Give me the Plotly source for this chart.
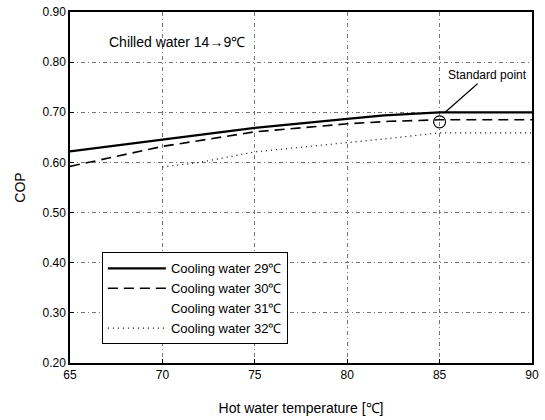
import plotly.graph_objects as go

temp_29 = [65, 70, 75, 80, 82, 85, 90]
cop_29 = [0.622, 0.646, 0.669, 0.687, 0.694, 0.700, 0.700]

temp_30 = [65, 70, 75, 80, 82.3, 85, 90]
cop_30 = [0.592, 0.632, 0.661, 0.677, 0.682, 0.685, 0.685]

temp_31 = [None]
cop_31 = [None]

temp_32 = [70, 72, 75, 80, 82.3, 85, 90]
cop_32 = [0.591, 0.600, 0.621, 0.639, 0.648, 0.659, 0.659]

std_temp = [85]
std_cop = [0.681]

x_ticks = [65, 70, 75, 80, 85, 90]
y_ticks = [0.20, 0.30, 0.40, 0.50, 0.60, 0.70, 0.80, 0.90]

FONT = "Liberation Sans, Arial, sans-serif"

fig = go.Figure()
fig.add_trace(go.Scatter(x=temp_29, y=cop_29, mode="lines", name="Cooling water 29℃",
                         line=dict(color="black", width=2.2)))
fig.add_trace(go.Scatter(x=temp_30, y=cop_30, mode="lines", name="Cooling water 30℃",
                         line=dict(color="black", width=1.6, dash="10px,6px")))
fig.add_trace(go.Scatter(x=temp_31, y=cop_31, mode="lines", name="Cooling water 31℃",
                         line=dict(color="rgba(0,0,0,0)", width=1), showlegend=True))
fig.add_trace(go.Scatter(x=temp_32, y=cop_32, mode="lines", name="Cooling water 32℃",
                         line=dict(color="black", width=1.2, dash="1px,4px")))
fig.add_trace(go.Scatter(x=std_temp, y=std_cop, mode="markers", showlegend=False,
                         marker=dict(symbol="circle-open", size=12, color="black",
                                     line=dict(width=1.2, color="black"))))

fig.add_annotation(x=85.3, y=0.700, xref="x", yref="y", text="Standard point",
                   showarrow=True, arrowhead=0, arrowwidth=1.2, arrowcolor="black",
                   ax=42, ay=-37, font=dict(size=12, color="black", family=FONT))
fig.add_annotation(x=67.0, y=0.841, xref="x", yref="y", text="Chilled water 14→9℃",
                   showarrow=False, xanchor="left", yanchor="middle",
                   font=dict(size=14, color="black", family=FONT))

axis_common = dict(showline=True, linecolor="black", linewidth=1.5, mirror=True,
                   showgrid=True, gridcolor="#777", gridwidth=0.8, griddash="4px,3px,1px,3px",
                   ticks="inside", ticklen=4, tickcolor="black", zeroline=False,
                   automargin=False,
                   tickfont=dict(size=12, color="black", family=FONT))

fig.update_xaxes(range=[65, 90], tickvals=x_ticks, ticktext=[str(v) for v in x_ticks],
                 title=dict(text="Hot water temperature [℃]", font=dict(size=14, color="black", family=FONT),
                            standoff=22),
                 **axis_common)
fig.update_yaxes(range=[0.20, 0.90], tickvals=y_ticks, ticktext=[f"{v:.2f}" for v in y_ticks],
                 title=dict(text="COP", font=dict(size=14, color="black", family=FONT), standoff=14),
                 **axis_common)

fig.update_layout(
    width=545, height=420,
    margin=dict(l=70, r=13, t=12, b=57),
    paper_bgcolor="white", plot_bgcolor="white",
    font=dict(family=FONT, color="black"),
    legend=dict(x=0.069, y=0.315, xanchor="left", yanchor="top",
                bgcolor="white", bordercolor="black", borderwidth=1,
                font=dict(size=13, color="black", family=FONT),
                itemwidth=58, tracegroupgap=0),
)

fig.write_html("out.html",
               config={"displayModeBar": False},
               post_script="document.body.style.margin='0';document.body.style.overflow='hidden';")
